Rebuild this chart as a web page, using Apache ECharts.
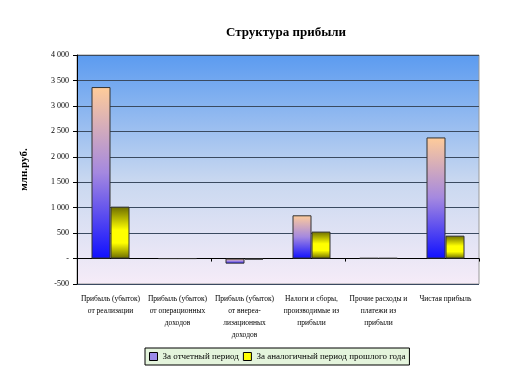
<!DOCTYPE html>
<html><head><meta charset="utf-8">
<script src="https://cdn.jsdelivr.net/npm/echarts@6/dist/echarts.min.js"></script>
<style>html,body{margin:0;padding:0;background:#fff}#c{width:512px;height:386px}</style>
</head><body><div id="c"></div>
<script>
var categories = ['Прибыль (убыток)\nот реализации','Прибыль (убыток)\nот операционных\nдоходов','Прибыль (убыток)\nот внереа-\nлизационных\nдоходов','Налоги и сборы,\nпроизводимые из\nприбыли','Прочие расходы и\nплатежи из\nприбыли','Чистая прибыль'];
var seriesNames = ['За отчетный период','За аналогичный период прошлого года'];
var current = [3370, 0, -100, 850, 10, 2380];
var previous = [1020, 0, -20, 530, 10, 450];
var yMin = -500, yMax = 4000, yStep = 500;

var ff = '"Liberation Serif","Times New Roman",serif';
var chart = echarts.init(document.getElementById('c'));
var g1 = new echarts.graphic.LinearGradient(0,0,0,1,[{offset:0,color:'#ffcc99'},{offset:0.5,color:'#a488e0'},{offset:1,color:'#1010ff'}]);
var g2 = new echarts.graphic.LinearGradient(0,0,0,1,[{offset:0,color:'#6b6b00'},{offset:0.45,color:'#ffff00'},{offset:0.7,color:'#ffff00'},{offset:1,color:'#6b6b00'}]);
chart.setOption({
  animation:false,
  title:{text:'Структура прибыли',left:281,top:21,textAlign:'center',textStyle:{fontFamily:ff,fontSize:13,fontWeight:'bold',color:'#000'}},
  grid:{left:77,top:55,right:33,bottom:102,show:true,borderColor:'#999',borderWidth:1,
    backgroundColor:new echarts.graphic.LinearGradient(0,0,0,1,[{offset:0,color:'#5b9bf0'},{offset:0.55,color:'#c9d8f0'},{offset:1,color:'#f6ecf8'}])},
  legend:{bottom:21,left:145,itemWidth:8,itemHeight:8,itemGap:4,padding:[4,4,4,4],
    backgroundColor:'#e4f4dc',borderColor:'#000',borderWidth:1,
    textStyle:{fontFamily:ff,fontSize:9,color:'#000'},
    data:[{name:seriesNames[0],icon:'rect',itemStyle:{color:'#9a8ae8',borderColor:'#000',borderWidth:1}},{name:seriesNames[1],icon:'rect',itemStyle:{color:'#ffff00',borderColor:'#000',borderWidth:1}}]},
  xAxis:[{type:'category',data:categories,axisLine:{show:false,onZero:false},axisTick:{show:false},
    axisLabel:{interval:0,fontFamily:ff,fontSize:7.5,color:'#000',lineHeight:12,margin:9}},
    {type:'category',data:categories,position:'bottom',axisLine:{show:true,onZero:true,lineStyle:{color:'#000',width:1}},
     axisTick:{show:true,length:3,inside:false,lineStyle:{color:'#000'}},axisLabel:{show:false}}],
  yAxis:{type:'value',min:yMin,max:yMax,interval:yStep,name:'млн.руб.',nameLocation:'middle',nameGap:47,nameRotate:90,
    nameTextStyle:{fontFamily:ff,fontSize:11,fontWeight:'bold',color:'#000'},
    axisLine:{show:true,lineStyle:{color:'#000'}},axisTick:{show:true,length:4,lineStyle:{color:'#000'}},
    axisLabel:{fontFamily:ff,fontSize:8,color:'#000',margin:8,formatter:function(v){if(v===0)return '-';var s=Math.abs(v).toString();if(s.length>3)s=s.slice(0,s.length-3)+' '+s.slice(-3);return (v<0?'-':'')+s;}},
    splitLine:{show:true,lineStyle:{color:'#3a4a60',width:1}}},
  series:[
    {name:seriesNames[0],type:'bar',data:current,xAxisIndex:0,barWidth:19,barGap:'0%',itemStyle:{color:g1,borderColor:'#333',borderWidth:1}},
    {name:seriesNames[1],type:'bar',data:previous,xAxisIndex:0,barWidth:19,barGap:'0%',itemStyle:{color:g2,borderColor:'#333',borderWidth:1}}
  ]
});
</script></body></html>
